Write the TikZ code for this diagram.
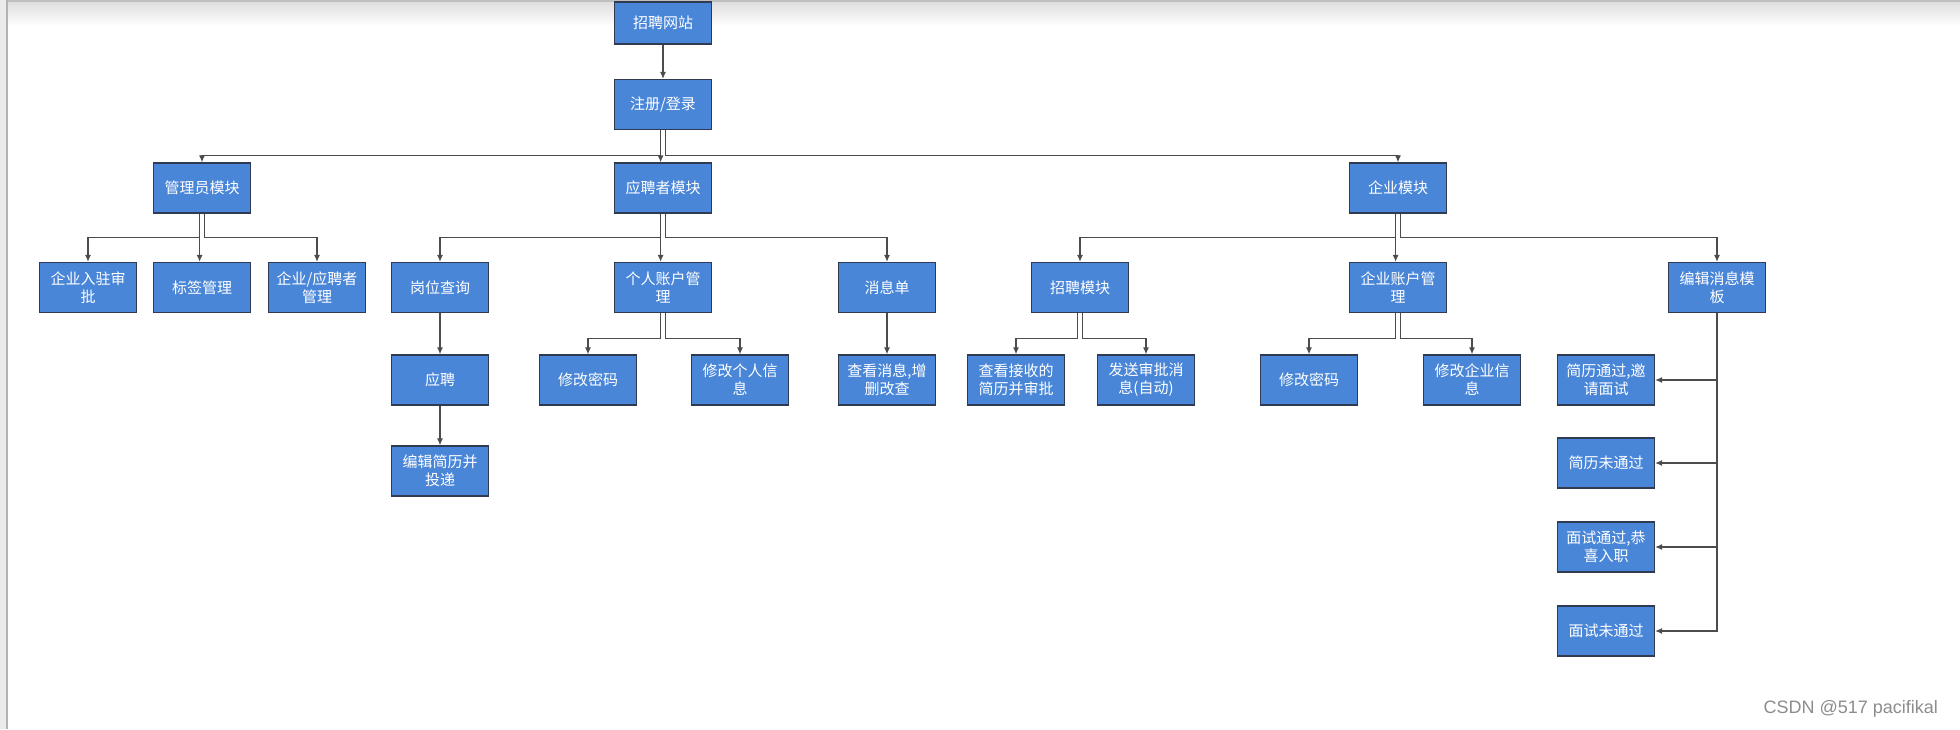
\documentclass[tikz,border=0pt]{standalone}
\usepackage{fontspec}
\newfontfamily\cjk{Noto Sans CJK SC}
\setsansfont{Liberation Sans}
\usetikzlibrary{arrows.meta}
\definecolor{boxblue}{RGB}{74,134,216}
\definecolor{boxline}{RGB}{48,58,80}

\begin{document}
\begin{tikzpicture}[
  x=0.5pt, y=-0.5pt,
  font=\cjk\fontsize{7.5pt}{9pt}\selectfont,
  box/.style={draw=boxline, line width=0.6pt, fill=boxblue, text=white, align=center, minimum width=48.5pt, minimum height=25pt, inner sep=1pt},
  conn/.style={-{Latex[length=3.5pt,width=3pt]}, line width=0.6pt, draw=black!70}
]
\useasboundingbox (0,0) rectangle (1960,729);

\fill[top color=black!14, bottom color=white] (0,0) rectangle (1960,26);
\draw[black!25, line width=1pt] (0,1) -- (1960,1);
\fill[black!8] (0,0) rectangle (6,729);
\draw[black!30, line width=0.8pt] (7,0) -- (7,729);

\node[box, minimum height=21pt] (site) at (663,23) {招聘网站};
\node[box] (login) at (663,104.5) {注册/登录};

\node[box] (admin) at (202,188) {管理员模块};
\node[box] (seeker) at (663,188) {应聘者模块};
\node[box] (firm) at (1398,188) {企业模块};

\node[box] (audit) at (88,287.5) {企业入驻审\\批};
\node[box] (tags) at (202,287.5) {标签管理};
\node[box] (users) at (317,287.5) {企业/应聘者\\管理};
\node[box] (jobs) at (440,287.5) {岗位查询};
\node[box] (account) at (663,287.5) {个人账户管\\理};
\node[box] (msgs) at (887,287.5) {消息单};
\node[box] (recruit) at (1080,287.5) {招聘模块};
\node[box] (firmacct) at (1398,287.5) {企业账户管\\理};
\node[box] (tpl) at (1717,287.5) {编辑消息模\\板};

\node[box] (apply) at (440,380) {应聘};
\node[box] (pwd) at (588,380) {修改密码};
\node[box] (info) at (740,380) {修改个人信\\息};
\node[box] (msgview) at (887,380) {查看消息,增\\删改查};
\node[box] (review) at (1016,380) {查看接收的\\简历并审批};
\node[box] (notify) at (1146,380) {发送审批消\\息(自动)};
\node[box] (firmpwd) at (1309,380) {修改密码};
\node[box] (firminfo) at (1472,380) {修改企业信\\息};

\node[box] (resume) at (440,471) {编辑简历并\\投递};

\node[box] (tplpass) at (1606,380) {简历通过,邀\\请面试};
\node[box] (tplfail) at (1606,463) {简历未通过};
\node[box] (tplhire) at (1606,547) {面试通过,恭\\喜入职};
\node[box] (tplout) at (1606,631) {面试未通过};

\draw[conn] (site) -- (login);
\draw[conn] ([xshift=-1.2pt]login.south) -- ++(0,25) -| (admin.north);
\draw[conn] ([xshift=-1.2pt]login.south) -- ([xshift=-1.2pt]seeker.north);
\draw[conn] ([xshift=1.2pt]login.south) -- ++(0,25) -| (firm.north);

\draw[conn] ([xshift=-1.2pt]admin.south) -- ++(0,24) -| (audit.north);
\draw[conn] ([xshift=-1.2pt]admin.south) -- ([xshift=-1.2pt]tags.north);
\draw[conn] ([xshift=1.2pt]admin.south) -- ++(0,24) -| (users.north);

\draw[conn] ([xshift=-1.2pt]seeker.south) -- ++(0,24) -| (jobs.north);
\draw[conn] ([xshift=-1.2pt]seeker.south) -- ([xshift=-1.2pt]account.north);
\draw[conn] ([xshift=1.2pt]seeker.south) -- ++(0,24) -| (msgs.north);

\draw[conn] ([xshift=-1.2pt]firm.south) -- ++(0,24) -| (recruit.north);
\draw[conn] ([xshift=-1.2pt]firm.south) -- ([xshift=-1.2pt]firmacct.north);
\draw[conn] ([xshift=1.2pt]firm.south) -- ++(0,24) -| (tpl.north);

\draw[conn] (jobs) -- (apply);
\draw[conn] (apply) -- (resume);
\draw[conn] ([xshift=-1.2pt]account.south) -- ++(0,25) -| (pwd.north);
\draw[conn] ([xshift=1.2pt]account.south) -- ++(0,25) -| (info.north);
\draw[conn] (msgs) -- (msgview);
\draw[conn] ([xshift=-1.2pt]recruit.south) -- ++(0,25) -| (review.north);
\draw[conn] ([xshift=1.2pt]recruit.south) -- ++(0,25) -| (notify.north);
\draw[conn] ([xshift=-1.2pt]firmacct.south) -- ++(0,25) -| (firmpwd.north);
\draw[conn] ([xshift=1.2pt]firmacct.south) -- ++(0,25) -| (firminfo.north);

\draw[conn] (tpl.south) |- (tplpass.east);
\draw[conn] (tpl.south) |- (tplfail.east);
\draw[conn] (tpl.south) |- (tplhire.east);
\draw[conn] (tpl.south) |- (tplout.east);

\node[font=\sffamily\fontsize{9pt}{10pt}\selectfont, text=black!45, anchor=east] (mark) at (1945,709) {CSDN @517 pacifikal};

\end{tikzpicture}
\end{document}
